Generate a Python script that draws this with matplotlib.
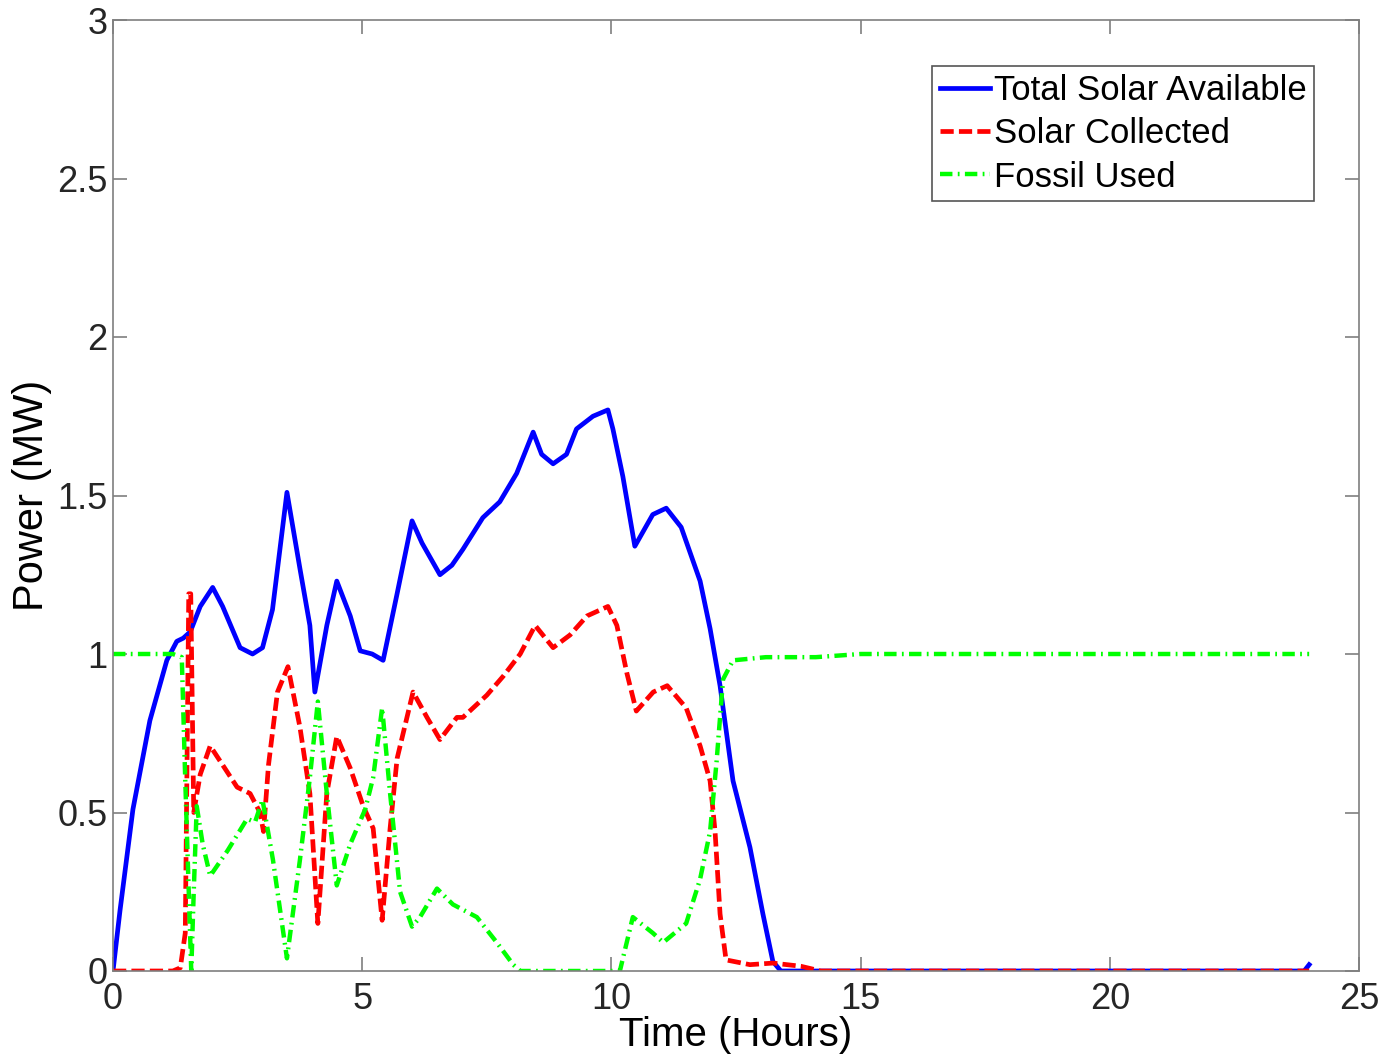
import matplotlib
matplotlib.use("Agg")
import matplotlib.pyplot as plt

plt.rcParams['font.family'] = ['Liberation Sans', 'DejaVu Sans']

# ---------------------------------------------------------
# DATA
# ---------------------------------------------------------
t_avail = [0, 0.14, 0.40, 0.74, 1.08, 1.28, 1.41, 1.55, 1.75, 2.0, 2.2, 2.55, 2.8,
           3.0, 3.2, 3.49, 3.75, 3.95, 4.05, 4.29, 4.49, 4.76, 4.96, 5.2, 5.42,
           5.7, 6.0, 6.2, 6.56, 6.8, 7.02, 7.42, 7.76, 8.1, 8.43, 8.6, 8.83, 9.1,
           9.3, 9.63, 9.93, 10.03, 10.23, 10.47, 10.83, 11.1, 11.4, 11.78, 11.98,
           12.18, 12.44, 12.78, 13.04, 13.24, 13.4, 23.9, 24.0]
p_avail = [0, 0.19, 0.51, 0.79, 0.98, 1.04, 1.05, 1.07, 1.15, 1.21, 1.15, 1.02, 1.00,
           1.02, 1.14, 1.51, 1.27, 1.09, 0.88, 1.09, 1.23, 1.12, 1.01, 1.00, 0.98,
           1.19, 1.42, 1.35, 1.25, 1.28, 1.33, 1.43, 1.48, 1.57, 1.70, 1.63, 1.60, 1.63,
           1.71, 1.75, 1.77, 1.71, 1.56, 1.34, 1.44, 1.46, 1.40, 1.23, 1.08,
           0.90, 0.60, 0.39, 0.18, 0.03, 0.0, 0.0, 0.02]

t_coll = [0, 1.2, 1.35, 1.45, 1.52, 1.56, 1.62, 1.75, 1.95, 2.2, 2.49, 2.75, 2.95,
          3.02, 3.12, 3.3, 3.51, 3.75, 3.95, 4.11, 4.29, 4.49, 4.76, 5.02, 5.22,
          5.4, 5.56, 5.7, 6.02, 6.3, 6.56, 6.9, 7.02, 7.5, 7.83, 8.17, 8.47, 8.83,
          9.17, 9.51, 9.93, 10.11, 10.31, 10.5, 10.84, 11.12, 11.5, 11.78, 11.98,
          12.08, 12.18, 12.3, 12.78, 13.24, 13.8, 14.2, 24.0]
p_coll = [0, 0, 0.01, 0.12, 1.19, 1.19, 0.50, 0.62, 0.71, 0.65, 0.58, 0.56, 0.50,
          0.44, 0.65, 0.88, 0.96, 0.77, 0.56, 0.15, 0.56, 0.74, 0.64, 0.52, 0.45,
          0.16, 0.45, 0.67, 0.88, 0.80, 0.73, 0.80, 0.80, 0.87, 0.93, 1.00, 1.09, 1.02,
          1.06, 1.12, 1.15, 1.09, 0.94, 0.82, 0.88, 0.90, 0.83, 0.71, 0.60,
          0.44, 0.18, 0.035, 0.02, 0.025, 0.015, 0, 0]

t_fossil = [0, 1.2, 1.38, 1.45, 1.57, 1.62, 1.68, 1.8, 1.95, 2.3, 2.69, 2.85, 3.0,
            3.21, 3.49, 3.75, 3.95, 4.11, 4.29, 4.49, 4.76, 5.06, 5.22, 5.4, 5.56,
            5.76, 6.0, 6.16, 6.5, 6.82, 7.3, 7.7, 8.03, 8.17, 10.17, 10.43, 10.83,
            11.04, 11.5, 11.78, 11.98, 12.11, 12.24, 12.44, 13.1, 14.1, 15.0, 24.0]
p_fossil = [1.0, 1.0, 0.99, 0.60, 0.0, 0.25, 0.52, 0.40, 0.30, 0.38, 0.48, 0.47, 0.54,
            0.35, 0.04, 0.35, 0.61, 0.85, 0.56, 0.27, 0.40, 0.51, 0.61, 0.83, 0.56,
            0.25, 0.14, 0.17, 0.26, 0.21, 0.17, 0.09, 0.02, 0.0, 0.0, 0.17, 0.12,
            0.09, 0.15, 0.29, 0.44, 0.66, 0.92, 0.98, 0.99, 0.99, 1.0, 1.0]

x_ticks = [0, 5, 10, 15, 20, 25]
y_ticks = [0, 0.5, 1, 1.5, 2, 2.5, 3]
y_tick_labels = ["0", "0.5", "1", "1.5", "2", "2.5", "3"]

# ---------------------------------------------------------
# FIGURE
# ---------------------------------------------------------
fig = plt.figure(figsize=(13.82, 10.55), dpi=100)
ax = fig.add_axes([113 / 1382, 84 / 1055, 1246 / 1382, 951 / 1055])

ax.plot(t_avail, p_avail, color="#0000ff", lw=3.4, label="Total Solar Available")
ax.plot(t_coll, p_coll, color="#ff0000", lw=3.4,
        linestyle=(0, (2.8, 1.1)), label="Solar Collected")
ax.plot(t_fossil, p_fossil, color="#00ff00", lw=3.2,
        linestyle=(0, (2.8, 1.2, 0.4, 1.2)), label="Fossil Used")

ax.set_xlim(0, 25)
ax.set_ylim(0, 3)
ax.set_xticks(x_ticks)
ax.set_yticks(y_ticks)
ax.set_xticklabels([str(v) for v in x_ticks])
ax.set_yticklabels(y_tick_labels)

for s in ax.spines.values():
    s.set_color("#7f7f7f")
    s.set_linewidth(1.2)

ax.tick_params(direction="in", length=10, width=1.2, color="#7f7f7f",
               labelsize=26, labelcolor="#262626",
               top=True, right=True)
ax.tick_params(axis="x", pad=8)
ax.tick_params(axis="y", pad=4)

ax.set_xlabel("Time (Hours)", fontsize=29, labelpad=-1)
ax.set_ylabel("Power (MW)", fontsize=30, labelpad=4)

leg = ax.legend(loc="upper right", bbox_to_anchor=(0.964, 0.9516),
                borderaxespad=0, fontsize=25, handlelength=1.45,
                handletextpad=0.1, labelspacing=0.3, borderpad=0.22,
                fancybox=False, framealpha=1)
leg.get_frame().set_edgecolor("#555555")
leg.get_frame().set_linewidth(1.2)

plt.savefig("out.png", dpi=100)
